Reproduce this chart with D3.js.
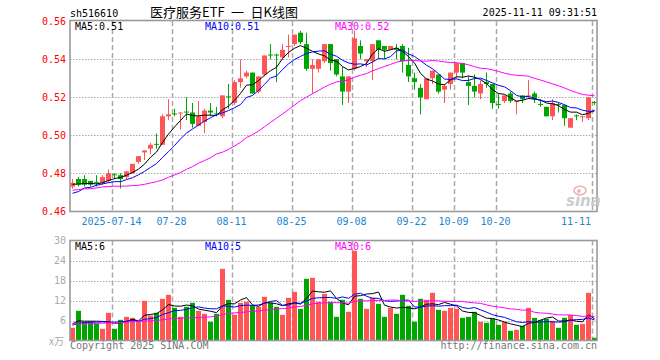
<!DOCTYPE html>
<html><head><meta charset="utf-8">
<script src="https://cdn.jsdelivr.net/npm/d3@7"></script>
<style>html,body{margin:0;padding:0;background:#fff;}svg{display:block;}</style>
</head><body>
<svg id="c" width="660" height="360"></svg>
<script>
// ---------- data ----------
const dates = [
"2025-07-03","2025-07-04","2025-07-07","2025-07-08","2025-07-09","2025-07-10","2025-07-11",
"2025-07-14","2025-07-15","2025-07-16","2025-07-17","2025-07-18","2025-07-21","2025-07-22","2025-07-23","2025-07-24","2025-07-25",
"2025-07-28","2025-07-29","2025-07-30","2025-07-31","2025-08-01","2025-08-04","2025-08-05","2025-08-06","2025-08-07","2025-08-08",
"2025-08-11","2025-08-12","2025-08-13","2025-08-14","2025-08-15","2025-08-18","2025-08-19","2025-08-20","2025-08-21","2025-08-22",
"2025-08-25","2025-08-26","2025-08-27","2025-08-28","2025-08-29","2025-09-01","2025-09-02","2025-09-03","2025-09-04","2025-09-05",
"2025-09-08","2025-09-09","2025-09-10","2025-09-11","2025-09-12","2025-09-15","2025-09-16","2025-09-17","2025-09-18","2025-09-19",
"2025-09-22","2025-09-23","2025-09-24","2025-09-25","2025-09-26","2025-09-29","2025-09-30",
"2025-10-09","2025-10-10","2025-10-13","2025-10-14","2025-10-15","2025-10-16","2025-10-17",
"2025-10-20","2025-10-21","2025-10-22","2025-10-23","2025-10-24","2025-10-27","2025-10-28","2025-10-29","2025-10-30","2025-10-31",
"2025-11-03","2025-11-04","2025-11-05","2025-11-06","2025-11-07","2025-11-10",
"2025-11-11"];

const open = [0.473,0.477,0.477,0.476,0.4755,0.475,0.476,0.4795,0.479,0.478,
0.480,0.486,0.491,0.493,0.4955,0.495,0.510,0.5115,0.5115,0.5125,
0.512,0.505,0.507,0.513,0.5115,0.510,0.5205,0.517,0.528,0.531,
0.533,0.523,0.532,0.5425,0.5425,0.541,0.5465,0.548,0.554,0.548,
0.535,0.535,0.539,0.548,0.540,0.531,0.523,0.535,0.547,0.539,
0.539,0.550,0.547,0.545,0.546,0.547,0.537,0.530,0.525,0.519,
0.530,0.532,0.524,0.527,0.533,0.538,0.528,0.526,0.522,0.528,
0.527,0.5165,0.518,0.522,0.5175,0.521,0.5205,0.522,0.5165,0.515,
0.510,0.5165,0.516,0.504,0.5105,0.5095,0.509,0.5175];

const high = [0.477,0.478,0.479,0.476,0.479,0.479,0.482,0.480,0.480,0.481,
0.485,0.489,0.492,0.496,0.501,0.511,0.519,0.514,0.512,0.520,
0.517,0.518,0.514,0.517,0.515,0.521,0.527,0.529,0.540,0.534,
0.533,0.531,0.542,0.548,0.543,0.548,0.553,0.553,0.555,0.554,
0.540,0.540,0.548,0.548,0.540,0.536,0.531,0.555,0.550,0.540,
0.548,0.550,0.547,0.547,0.548,0.548,0.546,0.533,0.527,0.530,
0.534,0.532,0.527,0.533,0.538,0.538,0.531,0.532,0.529,0.533,
0.527,0.522,0.521,0.523,0.518,0.521,0.529,0.523,0.519,0.515,
0.519,0.517,0.516,0.509,0.511,0.510,0.520,0.518];

const low = [0.472,0.473,0.473,0.473,0.473,0.474,0.475,0.477,0.472,0.477,
0.480,0.485,0.487,0.490,0.493,0.495,0.508,0.510,0.503,0.508,
0.504,0.505,0.501,0.510,0.510,0.509,0.514,0.516,0.525,0.530,
0.522,0.522,0.531,0.540,0.528,0.540,0.541,0.547,0.548,0.534,
0.522,0.533,0.538,0.534,0.531,0.516,0.517,0.534,0.540,0.536,
0.529,0.540,0.540,0.545,0.540,0.533,0.528,0.524,0.511,0.519,
0.527,0.522,0.517,0.524,0.530,0.530,0.516,0.520,0.519,0.525,
0.514,0.514,0.517,0.517,0.511,0.517,0.519,0.517,0.515,0.510,
0.508,0.512,0.505,0.504,0.508,0.507,0.508,0.516];

const close = [0.475,0.474,0.474,0.474,0.475,0.478,0.480,0.479,0.477,0.481,
0.485,0.489,0.492,0.495,0.495,0.510,0.511,0.511,0.512,0.512,
0.506,0.510,0.513,0.512,0.511,0.521,0.520,0.528,0.530,0.533,
0.522,0.531,0.542,0.542,0.542,0.545,0.547,0.553,0.549,0.535,
0.537,0.540,0.548,0.538,0.532,0.523,0.531,0.551,0.543,0.540,
0.548,0.545,0.545,0.547,0.545,0.539,0.531,0.528,0.520,0.530,
0.534,0.523,0.526,0.533,0.538,0.533,0.526,0.523,0.527,0.527,
0.517,0.516,0.521,0.518,0.518,0.519,0.521,0.519,0.516,0.510,
0.517,0.516,0.509,0.509,0.510,0.510,0.520,0.517];

const ma5 = [0.4742,0.4744,0.4746,0.4747,0.4744,0.4750,0.4762,0.4772,0.4778,0.4790,
0.4804,0.4822,0.4848,0.4884,0.4912,0.4962,0.5006,0.5044,0.5078,0.5112,
0.5104,0.5102,0.5106,0.5106,0.5104,0.5134,0.5154,0.5184,0.5220,0.5264,
0.5266,0.5288,0.5316,0.5340,0.5358,0.5404,0.5436,0.5458,0.5472,0.5458,
0.5442,0.5428,0.5418,0.5396,0.5390,0.5362,0.5344,0.5352,0.5362,0.5378,
0.5428,0.5456,0.5442,0.5450,0.5460,0.5442,0.5414,0.5380,0.5326,0.5296,
0.5286,0.5270,0.5266,0.5292,0.5308,0.5306,0.5312,0.5306,0.5294,0.5272,
0.5240,0.5220,0.5216,0.5198,0.5180,0.5184,0.5194,0.5190,0.5186,0.5170,
0.5166,0.5156,0.5136,0.5122,0.5122,0.5108,0.5116,0.5132];

const ma10 = [0.4695,0.4704,0.4723,0.4726,0.4737,0.4744,0.4751,0.4756,0.4756,0.4767,
0.4777,0.4792,0.4810,0.4831,0.4851,0.4883,0.4914,0.4946,0.4981,0.5012,
0.5033,0.5054,0.5075,0.5092,0.5108,0.5118,0.5130,0.5145,0.5162,0.5199,
0.5210,0.5236,0.5268,0.5302,0.5312,0.5346,0.5376,0.5399,0.5415,0.5431,
0.5439,0.5443,0.5445,0.5427,0.5416,0.5395,0.5381,0.5374,0.5376,0.5370,
0.5386,0.5404,0.5402,0.5414,0.5444,0.5449,0.5428,0.5415,0.5393,0.5369,
0.5350,0.5325,0.5296,0.5294,0.5297,0.5288,0.5289,0.5299,0.5301,0.5289,
0.5276,0.5263,0.5255,0.5235,0.5210,0.5202,0.5205,0.5194,0.5183,0.5177,
0.5180,0.5173,0.5161,0.5146,0.5144,0.5132,0.5126,0.5127];

const ma30 = [0.4711,0.4714,0.4718,0.4719,0.4723,0.4728,0.4730,0.4732,0.4732,0.4733,
0.4735,0.4737,0.4742,0.4749,0.4756,0.4765,0.4779,0.4791,0.4804,0.4821,
0.4835,0.4853,0.4867,0.4882,0.4902,0.4911,0.4926,0.4944,0.4963,0.4988,
0.5003,0.5022,0.5045,0.5068,0.5090,0.5112,0.5135,0.5159,0.5183,0.5201,
0.5219,0.5236,0.5254,0.5269,0.5281,0.5285,0.5292,0.5306,0.5316,0.5325,
0.5339,0.5351,0.5362,0.5373,0.5385,0.5391,0.5394,0.5394,0.5391,0.5390,
0.5394,0.5391,0.5386,0.5383,0.5382,0.5378,0.5371,0.5361,0.5353,0.5351,
0.5344,0.5336,0.5327,0.5320,0.5316,0.5314,0.5311,0.5300,0.5291,0.5281,
0.5271,0.5261,0.5249,0.5236,0.5225,0.5215,0.5211,0.5208];

const volume = [3.8,8.9,5.6,5.6,5.0,3.5,8.3,3.5,6.2,7.1,
6.8,5.8,11.9,7.5,8.3,12.5,13.7,9.8,7.1,10.1,
11.3,8.9,8.0,5.6,8.0,21.5,12.2,7.7,11.3,11.6,
10.5,10.1,13.1,11.3,10.1,7.7,12.8,14.6,9.5,18.5,
18.8,11.6,14.0,11.6,7.1,12.2,8.6,26.9,12.5,9.5,
12.8,11.0,7.1,9.8,8.0,13.7,10.4,5.6,12.5,12.2,
14.3,9.2,8.9,9.8,9.5,6.8,7.1,8.6,5.6,5.3,
6.5,4.7,5.6,2.9,3.2,4.4,9.8,6.8,6.2,6.5,
5.9,3.8,6.8,7.7,4.7,5.0,14.3,0.8];

const volMa5 = [5.0,5.9,5.8,5.8,5.78,5.72,5.6,5.18,5.3,5.72,
6.38,5.88,7.56,7.82,8.06,9.2,10.78,10.36,10.28,10.64,
10.4,9.44,9.08,8.78,8.36,10.4,11.06,11.0,12.14,12.86,
10.66,10.24,11.32,11.32,11.02,10.46,11.0,11.3,10.94,12.62,
14.84,14.6,14.48,14.9,12.62,11.3,10.7,13.28,13.46,13.94,
14.06,14.54,10.58,10.04,9.74,9.92,9.8,9.5,10.04,10.88,
11.0,10.76,11.42,10.88,10.34,8.84,8.42,8.36,7.52,6.68,
6.62,6.14,5.54,5.0,4.58,4.16,5.18,5.42,6.08,6.74,
7.04,5.84,5.84,6.14,5.78,5.6,7.7,6.5];

const volMa10 = [4.6,5.2,5.4,5.5,5.5,5.6,5.5,5.5,5.6,5.75,
6.05,5.74,6.37,6.56,6.89,7.79,8.33,8.96,9.05,9.35,
9.8,10.11,9.72,9.53,9.5,10.4,10.25,10.04,10.46,10.61,
10.53,10.65,11.16,11.73,11.94,10.56,10.62,11.31,11.13,11.82,
12.65,12.8,12.89,12.92,12.62,13.07,12.65,13.88,14.18,13.28,
12.68,12.62,11.93,11.75,11.84,11.99,12.17,10.04,10.04,10.31,
10.46,10.28,10.46,10.46,10.61,9.92,9.59,9.89,9.2,8.51,
7.73,7.28,6.95,6.26,5.63,5.39,5.66,5.48,5.54,5.66,
5.6,5.51,5.63,6.11,6.26,6.32,6.77,6.17];

const volMa30 = [5.0,5.0,5.0,5.0,5.1,5.2,5.3,5.3,5.4,5.5,
5.6,5.7,5.8,5.9,6.0,6.2,6.5,6.6,6.7,6.8,
6.8,6.9,7.0,7.1,7.3,7.8,8.1,8.3,8.4,8.57,
8.79,8.83,9.08,9.27,9.44,9.58,9.73,10.10,10.21,10.59,
10.99,11.19,11.26,11.39,11.35,11.34,11.17,11.74,11.92,11.90,
11.95,12.02,11.99,12.13,12.13,11.87,11.81,11.74,11.78,11.80,
11.93,11.90,11.76,11.71,11.69,11.66,11.47,11.27,11.14,10.70,
10.29,10.06,9.78,9.49,9.36,9.10,9.14,8.47,8.26,8.16,
7.93,7.69,7.68,7.61,7.50,7.21,7.34,7.18];

const priceTicks = [0.46,0.48,0.50,0.52,0.54,0.56];
const volTicks = [6,12,18,24,30];
const dateTicks = ["2025-07-14","2025-07-28","2025-08-11","2025-08-25","2025-09-08","2025-09-22","2025-10-09","2025-10-20","2025-11-11"];
const dateTickLabels = ["2025-07-14","07-28","08-11","08-25","09-08","09-22","10-09","10-20","11-11"];
const priceLegend = ["MA5:0.51","MA10:0.51","MA30:0.52"];
const volLegend = ["MA5:6","MA10:5","MA30:6"];

// ---------- drawing ----------
const MONO = "'DejaVu Sans Mono','Liberation Mono',monospace";
const RED = "#ff5555", GREEN = "#00a600";
const maColors = ["#000000","#0000ff","#ff00ff"];
const L = 70, R = 597;

const svg = d3.select("#c");
svg.append("rect").attr("width",660).attr("height",360).attr("fill","#fff");

const x = d3.scaleBand().domain(dates).range([69.5, 597.5]).padding(0);
const cx = d => x(d) + x.bandwidth()/2;
const y = d3.scaleLinear().domain([0.46,0.56]).range([211.3, 21.3]);
const yv = d3.scaleLinear().domain([0,30]).range([340.5, 240.5]);

const defs = svg.append("defs");
defs.append("clipPath").attr("id","cp1").append("rect").attr("x",L).attr("y",21).attr("width",R-L).attr("height",190.5);
defs.append("clipPath").attr("id","cp2").append("rect").attr("x",L).attr("y",241).attr("width",R-L).attr("height",99.5);

// grids
const grid = svg.append("g");
grid.selectAll(".hg").data(priceTicks.filter(t=>t>0.461 && t<0.559)).enter().append("line")
  .attr("x1",L).attr("x2",R).attr("y1",d=>Math.round(y(d))+0.5).attr("y2",d=>Math.round(y(d))+0.5)
  .attr("stroke","#aaa").attr("stroke-width",1).attr("stroke-dasharray","1.5,1.5");
grid.selectAll(".vhg").data(volTicks.filter(t=>t<30)).enter().append("line")
  .attr("x1",L).attr("x2",R).attr("y1",d=>Math.round(yv(d))+0.5).attr("y2",d=>Math.round(yv(d))+0.5)
  .attr("stroke","#aaa").attr("stroke-width",1).attr("stroke-dasharray","1.5,1.5");
[[21,211.3],[240.5,340.5]].forEach(([a,b])=>{
  grid.selectAll(null).data(dateTicks).enter().append("line")
    .attr("x1",d=>cx(d)-2).attr("x2",d=>cx(d)-2).attr("y1",a).attr("y2",b)
    .attr("stroke","#aaa").attr("stroke-width",1.5).attr("stroke-dasharray","5,3");
});

// candles
const idx = d3.range(dates.length);
const cg = svg.append("g").attr("clip-path","url(#cp1)");
const colorOf = i => close[i] >= open[i] ? RED : GREEN;
cg.selectAll(".wick").data(idx).enter().append("line")
  .attr("x1",i=>cx(dates[i])).attr("x2",i=>cx(dates[i]))
  .attr("y1",i=>y(high[i])).attr("y2",i=>y(low[i]))
  .attr("stroke",colorOf).attr("stroke-width",1);
cg.selectAll(".body").data(idx).enter().append("rect")
  .attr("x",i=>x(dates[i])+0.5).attr("width",x.bandwidth()-1)
  .attr("y",i=>y(Math.max(open[i],close[i])))
  .attr("height",i=>Math.max(1, Math.abs(y(open[i])-y(close[i]))))
  .attr("fill",colorOf);

// MA lines
const lineP = arr => d3.line().x((v,i)=>cx(dates[i])).y(v=>y(v))(arr);
[ma5,ma10,ma30].forEach((arr,k)=>{
  cg.append("path").attr("d",lineP(arr)).attr("fill","none").attr("stroke",maColors[k]).attr("stroke-width",1);
});

// volume bars
const vg = svg.append("g").attr("clip-path","url(#cp2)");
vg.selectAll(".vb").data(idx).enter().append("rect")
  .attr("x",i=>x(dates[i])+0.5).attr("width",x.bandwidth()-1)
  .attr("y",i=>yv(volume[i])).attr("height",i=>yv(0)-yv(volume[i]))
  .attr("fill",colorOf);
const lineV = arr => d3.line().x((v,i)=>cx(dates[i])).y(v=>yv(v))(arr);
[volMa5,volMa10,volMa30].forEach((arr,k)=>{
  vg.append("path").attr("d",lineV(arr)).attr("fill","none").attr("stroke",maColors[k]).attr("stroke-width",1);
});

// frames
svg.append("rect").attr("x",L).attr("y",20.5).attr("width",R-L).attr("height",191)
  .attr("fill","none").attr("stroke","#999").attr("stroke-width",1.6);
svg.append("rect").attr("x",L).attr("y",240.5).attr("width",R-L).attr("height",100)
  .attr("fill","none").attr("stroke","#999").attr("stroke-width",1.6);

// axes labels
const ya = svg.append("g").attr("transform",`translate(${L},0)`)
  .call(d3.axisLeft(y).tickValues(priceTicks).tickFormat(d3.format(".2f")).tickSize(0).tickPadding(4));
ya.select(".domain").remove();
ya.selectAll("text").attr("fill","#ff0000").style("font-family",MONO).style("font-size","10px");

const va = svg.append("g").attr("transform",`translate(${L},0)`)
  .call(d3.axisLeft(yv).tickValues(volTicks).tickFormat(d3.format("d")).tickSize(0).tickPadding(4));
va.select(".domain").remove();
va.selectAll("text").attr("fill","#aaa").style("font-family",MONO).style("font-size","10px");

svg.append("text").attr("x",64).attr("y",344.5).attr("text-anchor","end")
  .attr("fill","#aaa").style("font-family","'Noto Sans CJK SC',sans-serif").style("font-size","10px").text("x万");

svg.selectAll(".dl").data(dateTicks).enter().append("text")
  .attr("x",(d,i)=>Math.min(cx(d)-3, R-21)).attr("y",225).attr("text-anchor","middle")
  .attr("fill","#1a87d0").style("font-family",MONO).style("font-size","10px")
  .text((d,i)=>dateTickLabels[i]);

// legends
const legX = [75,205,335];
priceLegend.forEach((t,k)=>{
  svg.append("text").attr("x",legX[k]).attr("y",29.5).attr("fill",maColors[k])
    .style("font-family",MONO).style("font-size","10px").text(t);
});
volLegend.forEach((t,k)=>{
  svg.append("text").attr("x",legX[k]).attr("y",250).attr("fill",maColors[k])
    .style("font-family",MONO).style("font-size","10px").text(t);
});

// header
svg.append("text").attr("x",70).attr("y",16.5).attr("fill","#000")
  .style("font-family",MONO).style("font-size","10px").text("sh516610");
svg.append("text").attr("x",150).attr("y",17).attr("fill","#000")
  .style("font-family","'Noto Sans CJK SC',sans-serif").style("font-size","13px")
  .style("white-space","pre").text("医疗服务ETF\u2002一\u2002日K线图");
svg.append("text").attr("x",597).attr("y",16).attr("text-anchor","end").attr("fill","#000")
  .style("font-family",MONO).style("font-size","10px").text("2025-11-11 09:31:51");

// footer
svg.append("text").attr("x",70).attr("y",348.5).attr("fill","#777")
  .style("font-family",MONO).style("font-size","10px").text("Copyright 2025 SINA.COM");
svg.append("text").attr("x",597).attr("y",348.5).attr("text-anchor","end").attr("fill","#777")
  .style("font-family",MONO).style("font-size","10px").text("http://finance.sina.com.cn");

// watermark
const wm = svg.append("g").attr("opacity",0.85);
wm.append("ellipse").attr("cx",580).attr("cy",190.5).attr("rx",6).attr("ry",4.2)
  .attr("fill","none").attr("stroke","#f2a8a8").attr("stroke-width",1.6);
wm.append("circle").attr("cx",579).attr("cy",191).attr("r",2).attr("fill","#f2a8a8");
wm.append("text").attr("x",566).attr("y",206).attr("fill","#c4c4c4")
  .style("font-family","'DejaVu Sans',sans-serif").style("font-style","italic").style("font-weight","bold")
  .style("font-size","15px").text("sina");
</script>
</body></html>
